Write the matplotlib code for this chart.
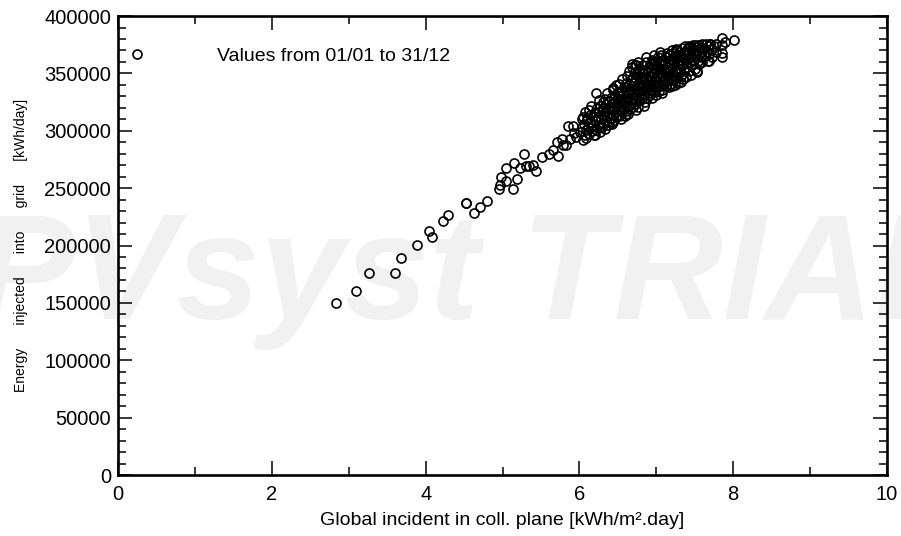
import matplotlib.pyplot as plt
from matplotlib.ticker import MultipleLocator
from matplotlib.lines import Line2D

# daily values, sparse low-irradiance days
irrad_low = [2.83, 3.09, 3.26, 3.60, 3.68, 3.89, 4.04, 4.08, 4.23, 4.29, 4.52, 4.53,
             4.63, 4.71, 4.80, 4.96, 4.97, 4.98, 5.05, 5.05, 5.13, 5.15, 5.19, 5.23,
             5.28, 5.31, 5.34, 5.40, 5.43, 5.51, 5.60, 5.66, 5.71, 5.72, 5.77, 5.79,
             5.83, 5.85, 5.88, 5.91, 5.93, 5.96, 6.03, 6.05, 6.07, 6.10, 6.14, 6.20,
             6.22]
energy_low = [149600, 160600, 176300, 176300, 188800, 200200, 212900, 207100, 221100,
              226800, 236800, 237300, 228000, 233800, 238800, 249000, 253000, 260000,
              268000, 256000, 249000, 272000, 258000, 268000, 280000, 269000, 269000,
              270000, 265000, 277000, 280000, 283000, 290000, 278000, 293000, 288000,
              288000, 304000, 293000, 304000, 298000, 295000, 303000, 312000, 296000,
              309000, 314000, 296000, 333000]

# dense summer cluster
irrad_main = [
    6.01, 6.03, 6.04, 6.06, 6.07, 6.08, 6.09, 6.10,
    6.11, 6.12, 6.13, 6.14, 6.15, 6.16, 6.17, 6.18, 6.19, 6.20,
    6.21, 6.22, 6.23, 6.24, 6.25, 6.25, 6.26, 6.27, 6.27, 6.28, 6.29, 6.29, 6.30, 6.30,
    6.31, 6.31, 6.32, 6.33, 6.33, 6.34, 6.35, 6.35, 6.36, 6.36, 6.37, 6.37, 6.38, 6.39, 6.39, 6.40,
    6.41, 6.41, 6.42, 6.42, 6.43, 6.44, 6.44, 6.45, 6.45, 6.46, 6.46, 6.47, 6.47, 6.48, 6.48, 6.49, 6.50, 6.50,
    6.51, 6.51, 6.52, 6.52, 6.53, 6.53, 6.54, 6.54, 6.55, 6.55, 6.56, 6.56, 6.57, 6.57, 6.58, 6.58, 6.59, 6.59, 6.60, 6.60,
    6.61, 6.61, 6.62, 6.62, 6.63, 6.63, 6.64, 6.64, 6.65, 6.65, 6.66, 6.66, 6.67, 6.67, 6.68, 6.68, 6.69, 6.69, 6.70, 6.70, 6.70, 6.69,
    6.71, 6.71, 6.72, 6.72, 6.73, 6.73, 6.74, 6.74, 6.75, 6.75, 6.76, 6.76, 6.77, 6.77, 6.78, 6.78, 6.79, 6.79, 6.80, 6.80, 6.76, 6.73,
    6.81, 6.81, 6.82, 6.82, 6.83, 6.83, 6.84, 6.84, 6.85, 6.85, 6.86, 6.86, 6.87, 6.87, 6.88, 6.88, 6.89, 6.89, 6.90, 6.90, 6.86, 6.84,
    6.91, 6.91, 6.92, 6.92, 6.93, 6.93, 6.94, 6.94, 6.95, 6.95, 6.96, 6.96, 6.97, 6.97, 6.98, 6.98, 6.99, 6.99, 7.00, 7.00, 6.97, 7.00,
    7.01, 7.01, 7.02, 7.02, 7.03, 7.03, 7.04, 7.04, 7.05, 7.05, 7.06, 7.06, 7.07, 7.07, 7.08, 7.08, 7.09, 7.09, 7.10, 7.10, 7.05, 7.08,
    7.11, 7.11, 7.12, 7.12, 7.13, 7.13, 7.14, 7.14, 7.15, 7.15, 7.16, 7.16, 7.17, 7.17, 7.18, 7.18, 7.19, 7.19, 7.20, 7.20,
    7.21, 7.21, 7.22, 7.22, 7.23, 7.23, 7.24, 7.24, 7.25, 7.25, 7.26, 7.27, 7.27, 7.28, 7.28, 7.29, 7.30, 7.30,
    7.31, 7.31, 7.32, 7.33, 7.33, 7.34, 7.35, 7.35, 7.36, 7.36, 7.37, 7.38, 7.38, 7.39, 7.40, 7.40,
    7.41, 7.42, 7.42, 7.43, 7.44, 7.45, 7.45, 7.46, 7.47, 7.48, 7.48, 7.49, 7.50, 7.50,
    7.51, 7.52, 7.53, 7.54, 7.55, 7.55, 7.56, 7.57, 7.58, 7.59, 7.60, 7.60,
    7.62, 7.63, 7.64, 7.66, 7.67, 7.68, 7.69, 7.70,
    7.72, 7.73, 7.75, 7.77, 7.78,
    # edge points
    7.86, 7.89, 7.86, 7.86, 7.86, 8.01, 7.68, 7.53, 7.32, 7.20, 6.44, 6.61, 6.44, 6.27,
    6.72, 6.96, 7.27, 7.42, 7.52, 7.70,
]
energy_main = [
    299000, 310000, 292000, 306000, 316000, 301000, 294000, 311000,
    303000, 318000, 297000, 308000, 322000, 300000, 313000, 305000, 296000, 316000,
    309000, 301000, 320000, 312000, 327000, 305000, 316000, 299000, 322000, 310000, 318000, 303000, 313000, 325000,
    307000, 320000, 314000, 302000, 328000, 317000, 309000, 323000, 312000, 333000, 305000, 319000, 326000, 315000, 308000, 321000,
    311000, 329000, 318000, 306000, 324000, 336000, 314000, 320000, 309000, 331000, 325000, 316000, 340000, 322000, 312000, 328000, 318000, 334000,
    323000, 313000, 330000, 341000, 318000, 326000, 310000, 335000, 321000, 345000, 328000, 316000, 332000, 324000, 338000, 319000, 327000, 313000, 342000, 330000,
    325000, 317000, 336000, 348000, 329000, 315000, 340000, 322000, 333000, 352000, 327000, 319000, 344000, 336000, 324000, 356000, 331000, 339000, 321000, 347000, 334000, 358000,
    329000, 342000, 323000, 351000, 336000, 345000, 327000, 357000, 339000, 332000, 321000, 348000, 342000, 335000, 326000, 354000, 338000, 346000, 330000, 341000, 360000, 318000,
    336000, 350000, 328000, 344000, 357000, 339000, 331000, 347000, 325000, 353000, 341000, 335000, 360000, 345000, 329000, 338000, 351000, 343000, 333000, 356000, 364000, 322000,
    340000, 348000, 331000, 358000, 344000, 352000, 336000, 362000, 347000, 329000, 341000, 355000, 350000, 334000, 345000, 360000, 338000, 353000, 343000, 331000, 366000, 357000,
    347000, 338000, 356000, 364000, 341000, 351000, 335000, 360000, 346000, 354000, 339000, 366000, 350000, 343000, 357000, 336000, 348000, 362000, 353000, 341000, 369000, 333000,
    345000, 358000, 350000, 339000, 364000, 354000, 343000, 368000, 356000, 348000, 338000, 361000, 352000, 366000, 346000, 357000, 341000, 363000, 350000, 370000,
    355000, 344000, 362000, 368000, 349000, 358000, 340000, 365000, 353000, 371000, 346000, 360000, 366000, 351000, 342000, 357000, 369000, 362000,
    354000, 366000, 348000, 361000, 372000, 357000, 345000, 368000, 363000, 352000, 374000, 359000, 347000, 366000, 356000, 371000,
    363000, 369000, 352000, 374000, 360000, 366000, 349000, 372000, 357000, 368000, 375000, 362000, 354000, 370000,
    366000, 373000, 351000, 361000, 375000, 368000, 358000, 371000, 364000, 376000, 369000, 360000,
    372000, 365000, 376000, 369000, 361000, 374000, 367000, 376000,
    371000, 364000, 374000, 369000, 376000,
    381000, 377600, 374700, 367500, 364500, 379000, 360800, 352300, 342800, 339000, 337000, 315000, 308000, 303500,
    357000, 361000, 370000, 373000, 375000, 376000,
]

plt.rcParams['font.family'] = ['Liberation Sans', 'DejaVu Sans']

fig = plt.figure(figsize=(9.01, 5.36), dpi=100)
ax = fig.add_axes([0.131, 0.1138, 0.8535, 0.8562])
ax.set_facecolor('none')

# watermark behind the axes
fig.text(-0.029, 0.405, 'PVsyst TRIAL', fontsize=109, fontweight='bold', style='italic',
         color='#f1f1f1', zorder=-1, ha='left', va='baseline')

ax.plot(irrad_low + irrad_main, energy_low + energy_main, linestyle='none', marker='o',
        markersize=6.5, markerfacecolor='none', markeredgecolor='black', markeredgewidth=1.2)

ax.set_xlim(0, 10)
ax.set_ylim(0, 400000)
ax.xaxis.set_major_locator(MultipleLocator(2))
ax.xaxis.set_minor_locator(MultipleLocator(1))
ax.yaxis.set_major_locator(MultipleLocator(50000))
ax.yaxis.set_minor_locator(MultipleLocator(10000))
ax.tick_params(which='both', direction='in', top=True, right=True, width=1.1, labelsize=14.5)
ax.tick_params(axis='x', pad=7)
ax.tick_params(axis='y', pad=5)
ax.tick_params(which='major', length=10)
ax.tick_params(which='minor', length=5.5)
for s in ax.spines.values():
    s.set_linewidth(1.9)

ax.set_xlabel('Global incident in coll. plane [kWh/m\u00b2.day]', fontsize=14, labelpad=6)
ax.set_ylabel('Energy      injected      into      grid      [kWh/day]', fontsize=10, labelpad=12)

h = Line2D([], [], linestyle='none', marker='o', markersize=6.5, markerfacecolor='none',
           markeredgecolor='black', markeredgewidth=1.2)
ax.legend([h], ['Values from 01/01 to 31/12'], loc='upper left', frameon=False, fontsize=14,
          handlelength=0.5, handletextpad=3.9, bbox_to_anchor=(0.0, 0.962), borderaxespad=0.3)

fig.savefig('out.png', dpi=100)
